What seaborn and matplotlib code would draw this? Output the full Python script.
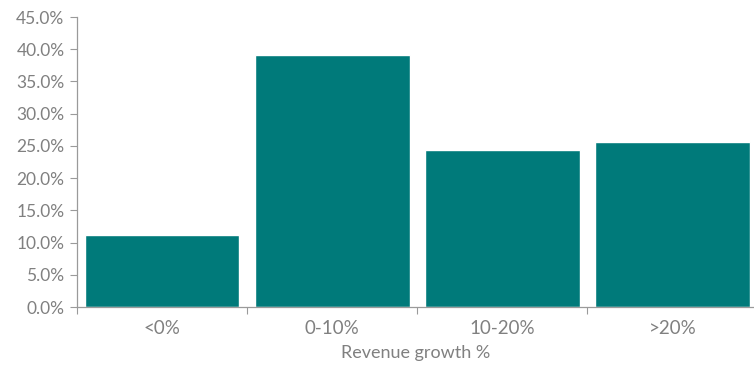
import matplotlib
matplotlib.use("Agg")
import matplotlib.pyplot as plt
import seaborn as sns
import pandas as pd
from matplotlib.ticker import FuncFormatter, FixedLocator

categories = ["<0%", "0-10%", "10-20%", ">20%"]
shares = [11.1, 39.1, 24.4, 25.6]
y_ticks = [0, 5, 10, 15, 20, 25, 30, 35, 40, 45]
x_label = "Revenue growth %"

df = pd.DataFrame({"growth": categories, "share": shares})

sns.set_style("white")
plt.rcParams["font.family"] = ["Lato", "DejaVu Sans"]

bar_color = "#007a7a"
axis_color = "#9a9a9a"
text_color = "#808080"

fig = plt.figure(figsize=(7.54, 3.70), dpi=100)
ax = fig.add_axes([77 / 754, 63 / 370, 677 / 754, 290 / 370])

sns.barplot(data=df, x="growth", y="share", color=bar_color, width=0.91,
            saturation=1, ax=ax)

ax.set_xlim(-0.5, 3.48)
ax.set_ylim(0, 45)
ax.yaxis.set_major_locator(FixedLocator(y_ticks))
ax.yaxis.set_major_formatter(FuncFormatter(lambda v, _: f"{v:.1f}%"))

# category boundaries carry the tick marks, labels sit at the centres
ax.xaxis.set_minor_locator(FixedLocator([-0.5, 0.5, 1.5, 2.5, 3.5]))
ax.tick_params(axis="x", which="major", length=0, pad=9,
               labelsize=13.5, labelcolor=text_color)
ax.tick_params(axis="x", which="minor", length=5, width=0.8,
               color=axis_color, direction="out", bottom=True)
ax.tick_params(axis="y", which="major", length=5, width=0.8,
               color=axis_color, direction="out", left=True, pad=4,
               labelsize=12.5, labelcolor=text_color)

for side in ["top", "right"]:
    ax.spines[side].set_visible(False)
for side in ["left", "bottom"]:
    ax.spines[side].set_color(axis_color)
    ax.spines[side].set_linewidth(0.9)

ax.set_xlabel(x_label, fontsize=13, color=text_color, labelpad=6)
ax.set_ylabel("")

fig.savefig("out.png", dpi=100, facecolor="white")
